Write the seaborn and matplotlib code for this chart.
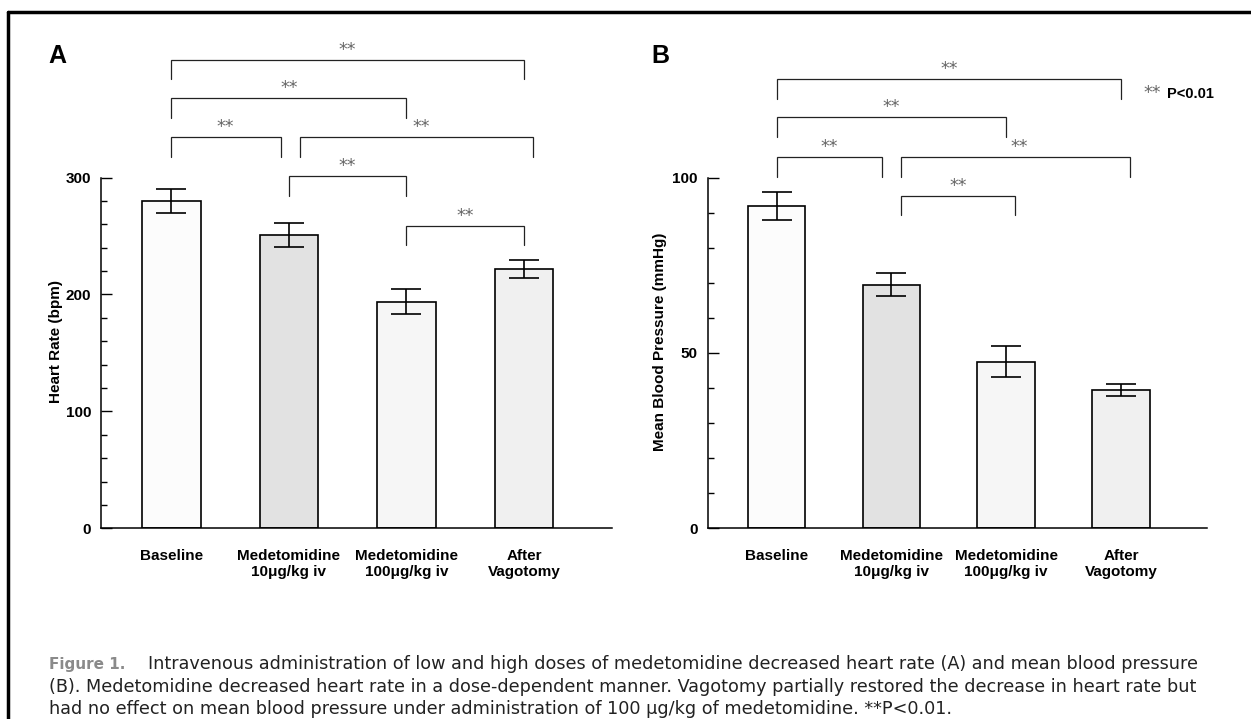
import matplotlib
matplotlib.use("Agg")
import matplotlib.pyplot as plt
import seaborn as sns
from matplotlib.lines import Line2D
from matplotlib.ticker import FixedLocator

# Datos
categorias = ["Baseline", "Medetomidine\n10\u03bcg/kg iv", "Medetomidine\n100\u03bcg/kg iv", "After\nVagotomy"]
fc_media = [280, 251, 194, 222]          # frecuencia cardiaca (bpm)
fc_error = [10, 10, 11, 7.5]
pam_media = [92, 69.5, 47.5, 39.4]       # presion arterial media (mmHg)
pam_error = [4, 3.4, 4.4, 1.8]
colores_barras = ["#fcfcfc", "#e2e2e2", "#f6f6f6", "#f0f0f0"]

# Corchetes de significacion: (x inicio, x fin, altura, final de las patas, x de los asteriscos)
corchetes_fc = [
    (0, 3, 401, 384, 1.5),
    (0, 2, 368, 351, 1.0),
    (0, 0.93, 335, 318, 0.46),
    (1.09, 3.08, 335, 318, 2.13),
    (1, 2, 301, 284, 1.5),
    (2, 3, 259, 242, 2.5),
]
corchetes_pam = [
    (0, 3, 128.2, 122.5, 1.5),
    (0, 2, 117.2, 111.7, 1.0),
    (0, 0.92, 106.0, 100.3, 0.46),
    (1.08, 3.08, 106.0, 100.3, 2.11),
    (1.08, 2.08, 94.8, 89.2, 1.58),
]

leyenda = [
    "Intravenous administration of low and high doses of medetomidine decreased heart rate (A) and mean blood pressure",
    "(B). Medetomidine decreased heart rate in a dose-dependent manner. Vagotomy partially restored the decrease in heart rate but",
    "had no effect on mean blood pressure under administration of 100 \u03bcg/kg of medetomidine. **P<0.01.",
]

sns.set_style("ticks")
plt.rcParams['font.family'] = ['Liberation Sans', 'DejaVu Sans']
for clave in ["text.color", "axes.labelcolor", "xtick.color", "ytick.color", "axes.edgecolor"]:
    plt.rcParams[clave] = "black"

W, H = 1251, 719
fig = plt.figure(figsize=(W / 100, H / 100), dpi=100)
fig.patch.set_facecolor("white")

ax_a = fig.add_axes([101 / W, 1 - 528.3 / H, 511 / W, 491 / H])
ax_b = fig.add_axes([707.7 / W, 1 - 528.3 / H, 499.3 / W, 491 / H])


def dibujar_panel(ax, medias, errores, ymax, ytope, mayores, menores, etiqueta, corchetes, xlab):
    sns.barplot(x=categorias, y=medias, hue=categorias, palette=colores_barras, width=0.5,
                edgecolor="black", linewidth=1.2, legend=False, errorbar=None, ax=ax)
    ax.errorbar(range(len(categorias)), medias, yerr=errores, fmt="none", ecolor="black",
                elinewidth=1.2, capsize=10.5, capthick=1.2)
    ax.set_xlim(-0.6, 3.75)
    ax.set_ylim(0, ymax)
    ax.spines["top"].set_visible(False)
    ax.spines["right"].set_visible(False)
    ax.spines["left"].set_bounds(0, ytope)
    for s in ["left", "bottom"]:
        ax.spines[s].set_linewidth(1.1)
    ax.yaxis.set_major_locator(FixedLocator(mayores))
    ax.yaxis.set_minor_locator(FixedLocator(menores))
    ax.tick_params(axis="y", which="major", direction="in", length=8, width=1, pad=7)
    ax.tick_params(axis="y", which="minor", direction="in", length=4.5, width=1)
    ax.tick_params(axis="x", length=0, pad=15)
    for lab in ax.get_xticklabels() + ax.get_yticklabels():
        lab.set_fontweight("bold")
        lab.set_fontsize(11)
    ax.set_xlabel("")
    ax.set_ylabel(etiqueta, fontsize=11, fontweight="bold")
    ax.yaxis.set_label_coords(xlab, 0.38)

    for x1, x2, alto, bajo, xs in corchetes:
        ax.plot([x1, x1, x2, x2], [bajo, alto, alto, bajo], color="#222222", lw=0.9,
                solid_joinstyle="miter", clip_on=False)
        ax.annotate("**", xy=(xs, alto), xytext=(0, 5), textcoords="offset pixels",
                    ha="center", va="baseline", fontsize=12.5, color="#666666",
                    family="DejaVu Sans")


dibujar_panel(ax_a, fc_media, fc_error, 420, 300, [0, 100, 200, 300], list(range(0, 301, 20)),
              "Heart Rate (bpm)", corchetes_fc, -0.074)
dibujar_panel(ax_b, pam_media, pam_error, 140, 100, [0, 50, 100], list(range(0, 101, 10)),
              "Mean Blood Pressure (mmHg)", corchetes_pam, -0.0815)

# Letras de panel y nota de significacion
fig.text(48 / W, 1 - 62.7 / H, "A", fontsize=18, fontweight="bold", va="baseline")
fig.text(651.6 / W, 1 - 62.7 / H, "B", fontsize=18, fontweight="bold", va="baseline")
fig.text(1143.7 / W, 1 - 98 / H, "**", fontsize=12.5, color="#666666", va="baseline",
         family="DejaVu Sans")
fig.text(1166.6 / W, 1 - 98 / H, "P<0.01", fontsize=10.5, fontweight="bold", va="baseline")

# Marco de la figura
fig.add_artist(Line2D([8 / W, 1], [1 - 12 / H, 1 - 12 / H], color="black", lw=2.5,
                      transform=fig.transFigure))
fig.add_artist(Line2D([8 / W, 8 / W], [0, 1 - 12 / H], color="black", lw=2.5,
                      transform=fig.transFigure))

# Pie de figura
y_lineas = [664, 687, 709]
fig.text(49 / W, 1 - y_lineas[0] / H, "Figure 1.", fontsize=11, fontweight="bold",
         color="#8a8a8a", va="center", family="DejaVu Sans")
fig.text(148 / W, 1 - y_lineas[0] / H, leyenda[0], fontsize=12.7, color="#222222",
         va="center", family="DejaVu Sans")
fig.text(49 / W, 1 - y_lineas[1] / H, leyenda[1], fontsize=12.7, color="#222222",
         va="center", family="DejaVu Sans")
fig.text(49 / W, 1 - y_lineas[2] / H, leyenda[2], fontsize=12.7, color="#222222",
         va="center", family="DejaVu Sans")

fig.savefig("out.png", dpi=100, facecolor="white")
